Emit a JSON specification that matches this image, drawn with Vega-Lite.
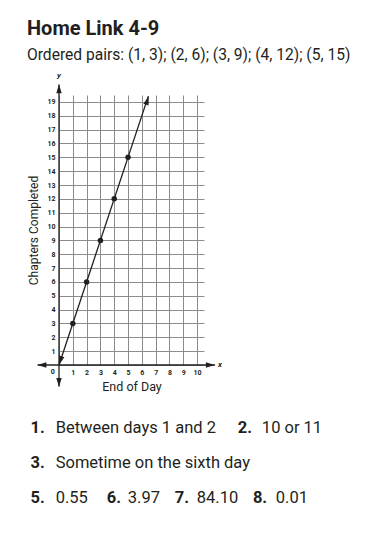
{
  "$schema": "https://vega.github.io/schema/vega-lite/v6.json",
  "width": 145,
  "height": 270,
  "autosize": {"type": "none"},
  "padding": {"left": 59, "top": 95, "right": 183, "bottom": 187},
  "background": "white",
  "config": {"view": {"stroke": null}, "font": "Roboto"},
  "title": {
    "text": "Home Link 4-9",
    "subtitle": "Ordered pairs: (1, 3); (2, 6); (3, 9); (4, 12); (5, 15)",
    "anchor": "start",
    "frame": "group",
    "dx": -32,
    "offset": 9,
    "font": "Roboto",
    "fontSize": 20,
    "fontWeight": "bold",
    "color": "#231f20",
    "subtitleFont": "Roboto",
    "subtitleFontSize": 15.6,
    "subtitleColor": "#231f20",
    "subtitlePadding": 9
  },
  "layer": [
    {
      "data": {"values": [{"day": 0, "chapters": 0}, {"day": 6.47, "chapters": 19.42}]},
      "mark": {"type": "line", "color": "#231f20", "strokeWidth": 1.3},
      "encoding": {
        "x": {
          "field": "day", "type": "quantitative",
          "scale": {"domain": [0, 10.5], "nice": false, "zero": false},
          "axis": {
            "values": [0, 1, 2, 3, 4, 5, 6, 7, 8, 9, 10],
            "tickCount": 11,
            "labelOverlap": false,
            "labelExpr": "datum.value == 0 ? '' : datum.label",
            "grid": true, "gridColor": "#8c8c8c", "gridWidth": 1, "gridOpacity": 1,
            "domain": false, "ticks": false,
            "labelFont": "Roboto", "labelFontSize": 7, "labelFontWeight": "bold", "labelColor": "#231f20", "labelPadding": 3,
            "title": "End of Day", "titleFont": "Roboto", "titleFontSize": 12.5, "titleFontWeight": "normal", "titleColor": "#231f20", "titlePadding": 5
          }
        },
        "y": {
          "field": "chapters", "type": "quantitative",
          "scale": {"domain": [0, 19.5], "nice": false, "zero": false},
          "axis": {
            "values": [0, 1, 2, 3, 4, 5, 6, 7, 8, 9, 10, 11, 12, 13, 14, 15, 16, 17, 18, 19],
            "tickCount": 20,
            "labelOverlap": false,
            "labelExpr": "datum.value == 0 ? '' : datum.label",
            "grid": true, "gridColor": "#8c8c8c", "gridWidth": 1, "gridOpacity": 1,
            "domain": false, "ticks": false,
            "labelFont": "Roboto", "labelFontSize": 7, "labelFontWeight": "bold", "labelColor": "#231f20", "labelPadding": 4,
            "title": "Chapters Completed", "titleFont": "Roboto", "titleFontSize": 12, "titleFontWeight": "normal", "titleColor": "#231f20", "titlePadding": 6
          }
        }
      }
    },
    {
      "data": {"values": [{"x1": -1.55, "x2": 11.3, "y1": 0, "y2": 0}, {"x1": 0, "x2": 0, "y1": -1.55, "y2": 20.25}]},
      "mark": {"type": "rule", "color": "#231f20", "strokeWidth": 1.3},
      "encoding": {
        "x": {"field": "x1", "type": "quantitative"},
        "x2": {"field": "x2"},
        "y": {"field": "y1", "type": "quantitative"},
        "y2": {"field": "y2"}
      }
    },
    {
      "data": {"values": [{"day": 1, "chapters": 3}, {"day": 2, "chapters": 6}, {"day": 3, "chapters": 9}, {"day": 4, "chapters": 12}, {"day": 5, "chapters": 15}]},
      "mark": {"type": "point", "filled": true, "color": "#231f20", "size": 30, "opacity": 1},
      "encoding": {
        "x": {"field": "day", "type": "quantitative"},
        "y": {"field": "chapters", "type": "quantitative"}
      }
    },
    {
      "data": {"values": [{"x": 10.96, "y": 0}]},
      "mark": {"type": "point", "filled": true, "opacity": 1, "color": "#231f20", "shape": "M0,-1L0.6,1L-0.6,1Z", "size": 81, "angle": 90},
      "encoding": {"x": {"field": "x", "type": "quantitative"}, "y": {"field": "y", "type": "quantitative"}}
    },
    {
      "data": {"values": [{"x": -1.24, "y": 0}]},
      "mark": {"type": "point", "filled": true, "opacity": 1, "color": "#231f20", "shape": "M0,-1L0.6,1L-0.6,1Z", "size": 81, "angle": 270},
      "encoding": {"x": {"field": "x", "type": "quantitative"}, "y": {"field": "y", "type": "quantitative"}}
    },
    {
      "data": {"values": [{"x": 0, "y": 19.96}]},
      "mark": {"type": "point", "filled": true, "opacity": 1, "color": "#231f20", "shape": "M0,-1L0.6,1L-0.6,1Z", "size": 81, "angle": 0},
      "encoding": {"x": {"field": "x", "type": "quantitative"}, "y": {"field": "y", "type": "quantitative"}}
    },
    {
      "data": {"values": [{"x": 0, "y": -1.26}]},
      "mark": {"type": "point", "filled": true, "opacity": 1, "color": "#231f20", "shape": "M0,-1L0.6,1L-0.6,1Z", "size": 81, "angle": 180},
      "encoding": {"x": {"field": "x", "type": "quantitative"}, "y": {"field": "y", "type": "quantitative"}}
    },
    {
      "data": {"values": [{"x": 6.40, "y": 19.11}]},
      "mark": {"type": "point", "filled": true, "opacity": 1, "color": "#231f20", "shape": "M0,-1L0.6,1L-0.6,1Z", "size": 81, "angle": 18.4},
      "encoding": {"x": {"field": "x", "type": "quantitative"}, "y": {"field": "y", "type": "quantitative"}}
    },
    {
      "data": {"values": [{"x": 0.10, "y": 0.31}]},
      "mark": {"type": "point", "filled": true, "opacity": 1, "color": "#231f20", "shape": "M0,-1L0.6,1L-0.6,1Z", "size": 81, "angle": 198.4},
      "encoding": {"x": {"field": "x", "type": "quantitative"}, "y": {"field": "y", "type": "quantitative"}}
    },
    {
      "data": {"values": [{"t": "x", "x": 11.65, "y": 0}, {"t": "y", "x": 0, "y": 20.85}]},
      "mark": {"type": "text", "font": "Roboto", "fontSize": 8, "fontStyle": "italic", "fontWeight": "bold", "color": "#231f20", "align": "center", "baseline": "middle"},
      "encoding": {"x": {"field": "x", "type": "quantitative"}, "y": {"field": "y", "type": "quantitative"}, "text": {"field": "t"}}
    },
    {
      "data": {"values": [{"t": "0", "x": -0.45, "y": -0.5}]},
      "mark": {"type": "text", "font": "Roboto", "fontSize": 7, "fontWeight": "bold", "color": "#231f20", "align": "center", "baseline": "middle"},
      "encoding": {"x": {"field": "x", "type": "quantitative"}, "y": {"field": "y", "type": "quantitative"}, "text": {"field": "t"}}
    },
    {
      "data": {"values": [
        {"t": "1.", "col": -2.07, "row": -4.91},
        {"t": "2.", "col": 12.95, "row": -4.91},
        {"t": "3.", "col": -2.07, "row": -7.44},
        {"t": "5.", "col": -2.07, "row": -9.96},
        {"t": "6.", "col": 3.46, "row": -9.96},
        {"t": "7.", "col": 8.38, "row": -9.96},
        {"t": "8.", "col": 14.04, "row": -9.96}
      ]},
      "mark": {"type": "text", "font": "Roboto", "fontSize": 16.5, "fontWeight": "bold", "color": "#231f20", "align": "left", "baseline": "alphabetic"},
      "encoding": {"x": {"field": "col", "type": "quantitative"}, "y": {"field": "row", "type": "quantitative"}, "text": {"field": "t"}}
    },
    {
      "data": {"values": [
        {"t": "Between days 1 and 2", "col": -0.24, "row": -4.91},
        {"t": "10 or 11", "col": 14.69, "row": -4.91},
        {"t": "Sometime on the sixth day", "col": -0.24, "row": -7.44},
        {"t": "0.55", "col": -0.24, "row": -9.96},
        {"t": "3.97", "col": 4.98, "row": -9.96},
        {"t": "84.10", "col": 9.98, "row": -9.96},
        {"t": "0.01", "col": 15.70, "row": -9.96}
      ]},
      "mark": {"type": "text", "font": "Roboto", "fontSize": 16.5, "fontWeight": "normal", "color": "#231f20", "align": "left", "baseline": "alphabetic"},
      "encoding": {"x": {"field": "col", "type": "quantitative"}, "y": {"field": "row", "type": "quantitative"}, "text": {"field": "t"}}
    }
  ]
}
